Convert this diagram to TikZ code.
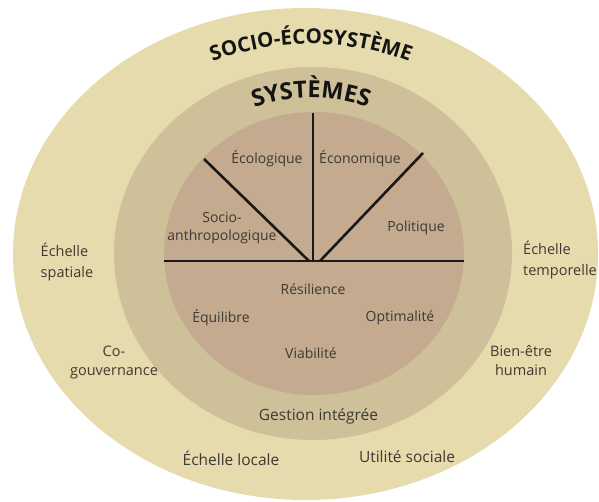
\documentclass[tikz,border=0pt]{standalone}
\usepackage{fontspec}
\setmainfont{Open Sans}
\usetikzlibrary{decorations.text}
\definecolor{outerc}{RGB}{229,219,172}
\definecolor{midc}{RGB}{206,192,153}
\definecolor{innerc}{RGB}{196,170,142}
\definecolor{txt}{RGB}{62,58,52}
\begin{document}
\begin{tikzpicture}[x=1pt,y=1pt,
  lbl/.style={text=txt,font=\fontsize{14}{18}\selectfont,align=center,inner sep=0pt},
  olbl/.style={lbl,font=\fontsize{14.5}{19}\selectfont},
  sep/.style={line width=2.6pt,black!90}]
\useasboundingbox (0,0) rectangle (599,502);
\fill[outerc] (305.5,248) ellipse [x radius=292.5, y radius=246];
\fill[midc] (313,248.5) ellipse [x radius=199, y radius=186.5];
\fill[innerc] (314,248.5) ellipse [x radius=150, y radius=141.5];
% separators
\coordinate (hl) at (164,241);
\coordinate (hr) at (464,241);
\coordinate (vt) at (313,389);
\coordinate (vb) at (313,241);
\coordinate (dlt) at (204,343);
\coordinate (dlb) at (309,241);
\coordinate (drt) at (423,349);
\coordinate (drb) at (320,241);
\draw[sep] (hl) -- (hr);
\draw[sep] (vt) -- (vb);
\draw[sep] (dlt) -- (dlb);
\draw[sep] (drt) -- (drb);
% titles
\path[decorate,decoration={text along path,text align=center,
  text format delimiters={|}{|},
  text={|\fontsize{20.5}{21}\selectfont\bfseries\color{black!92}|SOCIO-ÉCOSYSTÈME}}]
  (311,178) ++(124:280) arc[start angle=124,end angle=56,radius=280];
\path[decorate,decoration={text along path,text align=center,
  text format delimiters={|}{|},
  text={|\fontsize{23.5}{24}\selectfont\bfseries\color{black!92}|SYSTÈMES}}]
  (311,234) ++(124:170) arc[start angle=124,end angle=56,radius=170];
% inner labels
\node[lbl] (eco) at (267,343) {Écologique};
\node[lbl] (econ) at (360,343) {Économique};
\node[lbl] (socio) at (222,274) {Socio-\\anthropologique};
\node[lbl] (pol) at (416,274) {Politique};
\node[lbl] (res) at (313,213) {Résilience};
\node[lbl] (equ) at (221,184) {Équilibre};
\node[lbl] (opt) at (400,184) {Optimalité};
\node[lbl] (via) at (311,149) {Viabilité};
% middle ring
\node[lbl,font=\fontsize{15.5}{18}\selectfont] (ges) at (318.5,86) {Gestion intégrée};
% outer ring
\node[olbl,font=\fontsize{14.5}{21}\selectfont,align=left] (spa) at (67,240) {Échelle\\spatiale};
\node[olbl,font=\fontsize{14.5}{21}\selectfont,align=left] (tem) at (560,242) {Échelle\\temporelle};
\node[olbl] (cog) at (114,140) {Co-\\gouvernance};
\node[olbl] (bien) at (521,141) {Bien-être\\humain};
\node[olbl,font=\fontsize{15.5}{18}\selectfont] (loc) at (231,44) {Échelle locale};
\node[olbl,font=\fontsize{15.5}{18}\selectfont] (uti) at (407,45) {Utilité sociale};
\end{tikzpicture}
\end{document}
